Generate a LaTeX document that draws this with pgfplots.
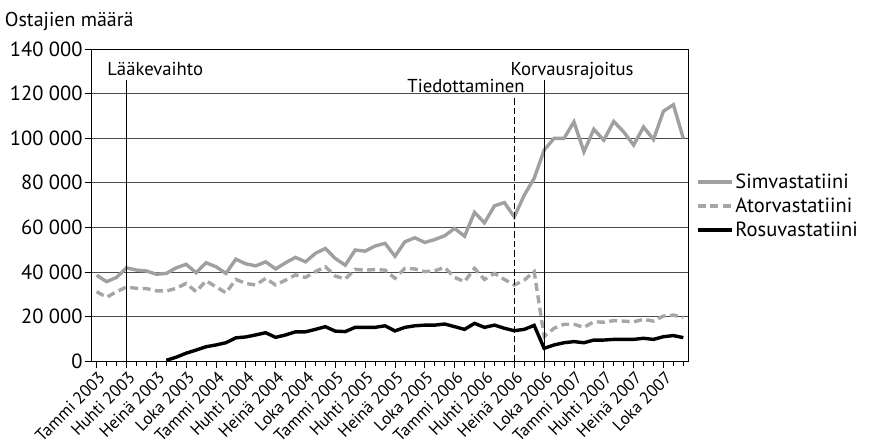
\documentclass[border=0pt]{standalone}
\usepackage{fontspec}
\setmainfont{PT Sans}
\usepackage{pgfplots}
\pgfplotsset{compat=1.18}
\definecolor{simva}{HTML}{A0A0A0}
\definecolor{atorva}{HTML}{A6A6A6}

\pgfplotstableread{
i simva atorva rosuva
0 38500 31100 nan
1 35600 28600 nan
2 37500 31100 nan
3 41800 33200 nan
4 40800 32600 nan
5 40400 32500 nan
6 38900 31500 nan
7 39300 31400 300
8 41800 32600 1700
9 43400 34800 3500
10 39600 31100 4900
11 44100 36000 6400
12 42300 33300 7200
13 39300 30600 8200
14 45700 36600 10400
15 43600 34800 10800
16 42700 34100 11700
17 44500 37100 12700
18 41300 34100 10600
19 44100 36300 11700
20 46500 38600 13100
21 44500 37500 13100
22 48300 40100 14200
23 50500 42300 15400
24 46000 38100 13400
25 43000 36800 13200
26 49800 41100 15100
27 49300 40800 15100
28 51600 41000 15100
29 52800 40800 15800
30 47000 37100 13500
31 53500 41600 15100
32 55300 41300 15800
33 53200 40100 16100
34 54500 40500 16100
35 56200 42000 16600
36 59500 37500 15400
37 56000 35600 14200
38 66700 41600 16900
39 62000 36600 15100
40 69600 39300 16100
41 71100 36600 14700
42 64700 34100 13600
43 74400 36300 14200
44 82000 40100 16000
45 94600 11000 5700
46 99900 14700 7200
47 99900 16500 8200
48 107300 16500 8700
49 93900 15100 8200
50 104000 17600 9400
51 99100 17400 9400
52 107500 18100 9700
53 102800 17900 9700
54 96900 17600 9700
55 105000 18700 10200
56 99400 17900 9700
57 112100 20200 10900
58 115000 20600 11400
59 99900 19600 10500
}\datatable

\begin{document}
\begin{tikzpicture}
\useasboundingbox (-91.7pt,-84pt) rectangle (780.3pt,361pt);
\begin{axis}[
  at={(0,0)}, anchor=south west,
  scale only axis, width=596.6pt, height=312pt,
  xmin=-0.5, xmax=59.5, ymin=0, ymax=140000,
  xtick={0,3,...,57}, minor xtick={0,...,59},
  xticklabels={Tammi 2003,Huhti 2003,Heinä 2003,Loka 2003,
    Tammi 2004,Huhti 2004,Heinä 2004,Loka 2004,
    Tammi 2005,Huhti 2005,Heinä 2005,Loka 2005,
    Tammi 2006,Huhti 2006,Heinä 2006,Loka 2006,
    Tammi 2007,Huhti 2007,Heinä 2007,Loka 2007},
  xticklabel style={xshift=6pt, yshift=-6pt, rotate=45, anchor=east,
    font=\fontsize{17}{19}\selectfont, inner sep=1pt},
  ytick={0,20000,40000,60000,80000,100000,120000,140000},
  yticklabels={0,20\ 000,40\ 000,60\ 000,80\ 000,100\ 000,120\ 000,140\ 000},
  scaled y ticks=false,
  yticklabel style={font=\fontsize{20.5}{22}\selectfont, inner sep=2pt},
  xtick pos=left, ytick pos=left, tick align=outside,
  major tick length=7pt, minor tick length=5pt,
  tick style={black, line width=0.7pt},
  ymajorgrids, grid style={black!70, line width=0.7pt},
  axis line style={black, line width=0.8pt},
  clip=false,
  legend cell align=left,
  legend style={at={(1.011,0.497)}, anchor=west, draw=none, fill=none,
    font=\fontsize{20.5}{22}\selectfont, row sep=4pt, inner sep=1pt},
  legend image code/.code={\draw[#1] (0pt,0pt) -- (34pt,0pt);},
]
\addplot[simva, line width=3.4pt] table[x=i, y=simva] {\datatable};
\addlegendentry{Simvastatiini}
\addplot[atorva, line width=3.4pt, dash pattern=on 8pt off 4.5pt] table[x=i, y=atorva] {\datatable};
\addlegendentry{Atorvastatiini}
\addplot[black, line width=3.4pt, unbounded coords=jump] table[x=i, y=rosuva] {\datatable};
\addlegendentry{Rosuvastatiini}

% event lines
\addplot[black, line width=0.9pt, forget plot] coordinates {(3,0) (3,126000)};
\addplot[black, line width=1.2pt, forget plot] coordinates {(45,0) (45,126000)};
\addplot[black, line width=1.4pt, dash pattern=on 6.5pt off 3pt, forget plot] coordinates {(42,0) (42,118500)};
\node[anchor=base west, font=\fontsize{18.7}{20}\selectfont, inner sep=0pt] at (axis cs:1.05,128200) {Lääkevaihto};
\node[anchor=base west, font=\fontsize{18.7}{20}\selectfont, inner sep=0pt] at (axis cs:41.6,128200) {Korvausrajoitus};
\node[anchor=base east, font=\fontsize{18.7}{20}\selectfont, inner sep=0pt] at (axis cs:43.05,120300) {Tiedottaminen};
\end{axis}
\node[anchor=base west, font=\fontsize{20}{22}\selectfont, inner sep=0pt] at (-87pt,334.3pt) {Ostajien määrä};
\end{tikzpicture}
\end{document}
